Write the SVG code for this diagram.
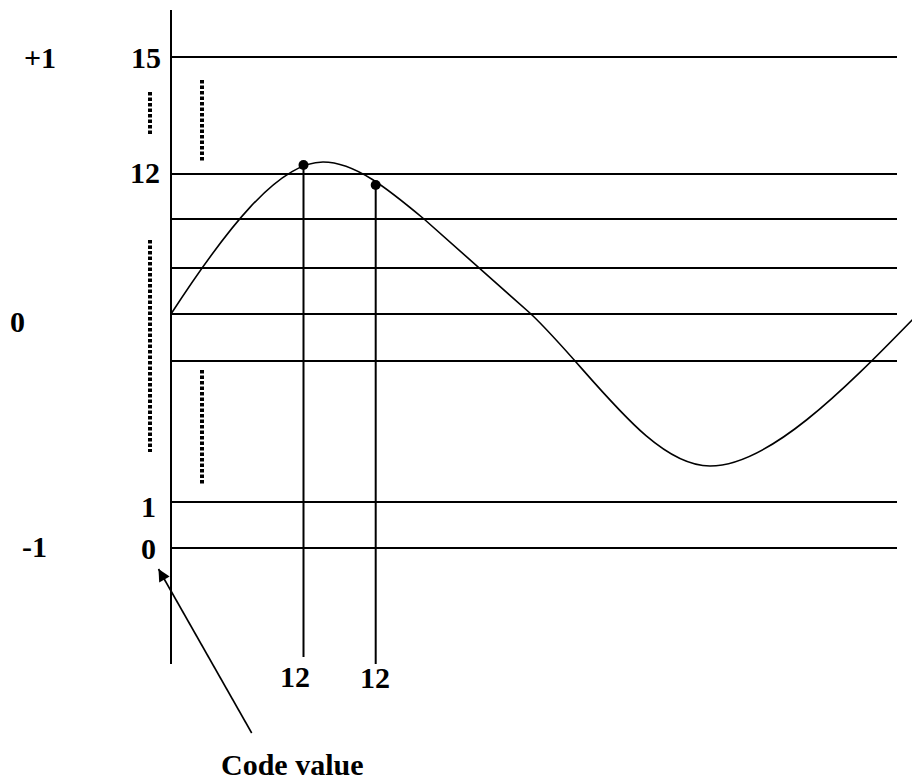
<svg xmlns="http://www.w3.org/2000/svg" width="912" height="780" viewBox="0 0 912 780">
  <style>
    .ln { stroke: #000; stroke-width: 2; fill: none; }
    .thin { stroke: #000; stroke-width: 1.6; fill: none; }
    .dot { stroke: #000; stroke-width: 4; stroke-dasharray: 3.5 2; fill: none; }
    .lbl { font-family: "Liberation Serif", "Times New Roman", serif; font-weight: bold; font-size: 30px; fill: #000; }
  </style>
  <defs>
    <marker id="ah" viewBox="0 0 10 10" refX="10" refY="5" markerWidth="15" markerHeight="12" markerUnits="userSpaceOnUse" orient="auto">
      <path d="M0,0 L10,5 L0,10 z" fill="#000"/>
    </marker>
  </defs>
  <rect width="912" height="780" fill="#fff"/>

  <g id="axis">
    <line class="ln" x1="171" y1="10" x2="171" y2="664"/>
  </g>

  <g id="levels">
    <line class="ln" x1="171" y1="57" x2="897" y2="57"/>
    <line class="ln" x1="171" y1="174" x2="897" y2="174"/>
    <line class="ln" x1="171" y1="219" x2="897" y2="219"/>
    <line class="ln" x1="171" y1="268" x2="897" y2="268"/>
    <line class="ln" x1="171" y1="314" x2="897" y2="314"/>
    <line class="ln" x1="171" y1="361" x2="897" y2="361"/>
    <line class="ln" x1="171" y1="502" x2="897" y2="502"/>
    <line class="ln" x1="171" y1="548" x2="897" y2="548"/>
  </g>

  <g id="ellipses">
    <line class="dot" x1="150" y1="92" x2="150" y2="135"/>
    <line class="dot" x1="202" y1="80" x2="202" y2="162"/>
    <line class="dot" x1="150" y1="240" x2="150" y2="452"/>
    <line class="dot" x1="202" y1="370" x2="202" y2="484"/>
  </g>

  <g id="signal">
    <path class="thin" d="M171,314 C225,231 278,162 323,162 C355,162 388,189 424,219 L531,314 C590,370 650,466 710,466 C768,466 842,392 914,318"/>
  </g>

  <g id="samples">
    <line class="ln" x1="303.5" y1="165" x2="303.5" y2="657"/>
    <line class="ln" x1="375.7" y1="185" x2="375.7" y2="664"/>
    <circle cx="303.5" cy="165" r="5"/>
    <circle cx="375.7" cy="185" r="5"/>
  </g>

  <g id="labels" class="lbl">
    <text x="24" y="68">+1</text>
    <text x="131" y="68">15</text>
    <text x="130" y="183">12</text>
    <text x="10" y="332">0</text>
    <text x="141" y="517">1</text>
    <text x="22" y="557">-1</text>
    <text x="141" y="559">0</text>
    <text x="280" y="687">12</text>
    <text x="360" y="688">12</text>
    <text x="221" y="775">Code value</text>
  </g>

  <g id="connectors">
    <line class="thin" x1="251.7" y1="733" x2="158.5" y2="569" marker-end="url(#ah)"/>
  </g>
</svg>
